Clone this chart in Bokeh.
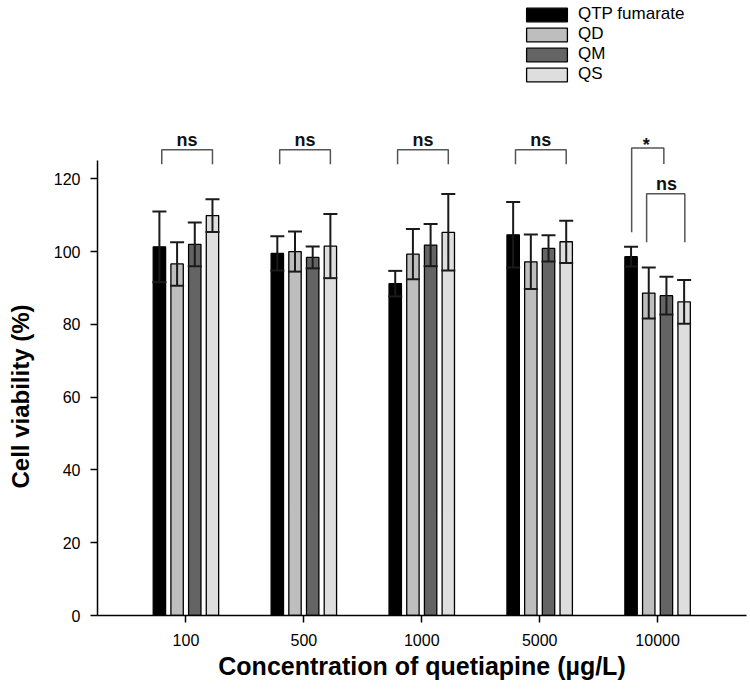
import math
from bokeh.plotting import figure
from bokeh.models import (Range1d, FixedTicker, Whisker, TeeHead, ColumnDataSource,
                          Legend, LegendItem, Title)
from bokeh.core.properties import value
from bokeh.embed import file_html
from bokeh.resources import INLINE

# ---------------- data ----------------
concentrations = ["100", "500", "1000", "5000", "10000"]
series_names = ["QTP fumarate", "QD", "QM", "QS"]

qtp = [101.3, 99.5, 91.2, 104.6, 98.6]
qtp_sd = [9.7, 4.7, 3.5, 9.0, 2.7]
qd = [96.6, 100.0, 99.3, 97.2, 88.6]
qd_sd = [6.0, 5.5, 6.9, 7.5, 7.0]
qm = [102.0, 98.4, 101.8, 100.9, 87.9]
qm_sd = [6.0, 3.0, 5.8, 3.6, 5.2]
qs = [109.9, 101.5, 105.3, 102.7, 86.2]
qs_sd = [4.5, 8.8, 10.5, 5.8, 6.0]

y_ticks = [0, 20, 40, 60, 80, 100, 120]

# significance annotations: (group index, label)
sig_groups = [(0, "ns"), (1, "ns"), (2, "ns"), (3, "ns")]

# ---------------- styling ----------------
FONT = "Liberation Sans"
colors = ["#000000", "#bebebe", "#646464", "#dedede"]
offsets = [-0.225, -0.075, 0.075, 0.225]
bar_w = 0.105

p = figure(width=748, height=694,
           x_range=Range1d(0.25, 5.754), y_range=Range1d(0, 169.0),
           output_backend="svg", toolbar_location=None,
           min_border_left=97, min_border_right=2,
           min_border_top=0, min_border_bottom=79)
p.outline_line_color = None
p.grid.visible = False
p.background_fill_color = "white"
p.border_fill_color = "white"

means = [qtp, qd, qm, qs]
sds = [qtp_sd, qd_sd, qm_sd, qs_sd]
xs_base = list(range(1, len(concentrations) + 1))

renderers = []
for k in range(4):
    x = [b + offsets[k] for b in xs_base]
    src = ColumnDataSource(dict(
        x=x, top=means[k],
        upper=[m + s for m, s in zip(means[k], sds[k])],
        lower=[m - s for m, s in zip(means[k], sds[k])],
    ))
    r = p.vbar(x="x", top="top", bottom=0, width=bar_w, source=src,
               fill_color=colors[k], line_color="#000000", line_width=1.3)
    renderers.append(r)
    w = Whisker(source=src, base="x", upper="upper", lower="lower",
                line_color="#1a1a1a", line_width=2, level="annotation",
                upper_head=TeeHead(size=14, line_width=2, line_color="#1a1a1a"),
                lower_head=TeeHead(size=14, line_width=2, line_color="#1a1a1a"))
    p.add_layout(w)

# brackets
br_xs, br_ys = [], []
txt_x, txt_y, txt = [], [], []
for g, lab in sig_groups:
    c = g + 1
    br_xs.append([c - 0.205, c - 0.205, c + 0.225, c + 0.225])
    br_ys.append([124.0, 128.0, 128.0, 124.0])
    txt_x.append(c + 0.01)
    txt_y.append(130.6)
    txt.append(lab)
# last group: '*' between QTP and the others, 'ns' among salts
c = 5
br_xs.append([c - 0.22, c - 0.22, c + 0.053, c + 0.053])
br_ys.append([105.3, 128.5, 128.5, 124.1])
txt_x.append(c - 0.096); txt_y.append(129.3); txt.append("*")
br_xs.append([c - 0.093, c - 0.093, c + 0.231, c + 0.231])
br_ys.append([102.6, 115.9, 115.9, 102.6])
txt_x.append(c + 0.076); txt_y.append(118.6); txt.append("ns")

p.multi_line(xs=br_xs, ys=br_ys, line_color="#555555", line_width=1.5)
p.text(x=txt_x, y=txt_y, text=txt, text_font=value(FONT), text_font_style="bold",
       text_font_size="18px", text_align="center", text_baseline="alphabetic",
       text_color="#111111")

# axes
p.xaxis.ticker = FixedTicker(ticks=xs_base)
p.xaxis.major_label_overrides = {i: c for i, c in zip(xs_base, concentrations)}
p.yaxis.ticker = FixedTicker(ticks=y_ticks)
p.yaxis.bounds = (0, 125)
for ax in (p.xaxis[0], p.yaxis[0]):
    ax.axis_line_width = 1.5
    ax.axis_line_color = "#000000"
    ax.major_tick_in = 0
    ax.major_tick_out = 7
    ax.major_tick_line_width = 1.5
    ax.major_tick_line_color = "#000000"
    ax.minor_tick_line_color = None
    ax.major_label_text_font = FONT
    ax.major_label_text_font_size = "16px"
    ax.major_label_text_color = "#000000"
p.yaxis.major_label_standoff = 10
p.xaxis.major_label_standoff = 11
p.xaxis.axis_label = "Concentration of quetiapine (µg/L)"
p.xaxis.axis_label_text_font = FONT
p.xaxis.axis_label_text_font_style = "bold"
p.xaxis.axis_label_text_font_size = "25px"
p.xaxis.axis_label_text_color = "#000000"
p.xaxis.axis_label_standoff = 3

# blank spacer panel between the y axis and its title
spacer = Title(text=" ", standoff=4, text_font=FONT, text_font_size="10px",
               text_color="white")
p.add_layout(spacer, "left")
ytitle = Title(text="Cell viability (%)", align="left", offset=127, standoff=0,
               text_font=FONT, text_font_style="bold", text_font_size="24px",
               text_color="#000000")
p.add_layout(ytitle, "left")

legend = Legend(items=[LegendItem(label=n, renderers=[r]) for n, r in zip(series_names, renderers)],
                location=(424, 531), glyph_width=51, glyph_height=17, label_height=17,
                spacing=0, padding=0, margin=0, border_line_color=None,
                background_fill_alpha=0, label_text_font=FONT,
                label_text_font_size="17px", label_text_color="#000000",
                label_standoff=6)
p.add_layout(legend)

open("out.html", "w").write(file_html(p, INLINE))
